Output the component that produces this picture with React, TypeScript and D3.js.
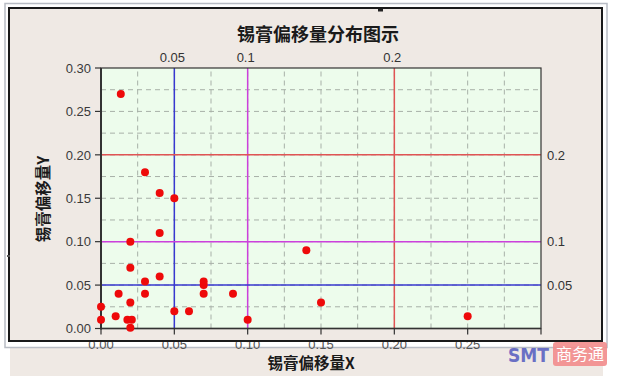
import React from "react";
import * as d3 from "d3";

const pointsX = [0.0135, 0.03, 0.04, 0.05, 0.04, 0.02, 0.14, 0.02, 0.03, 0.04, 0.07, 0.07, 0.012, 0.03, 0.07, 0.09, 0.02, 0.15, 0, 0.05, 0.06, 0.01, 0, 0.018, 0.021, 0.1, 0.02, 0.25];
const pointsY = [0.27, 0.18, 0.156, 0.15, 0.11, 0.1, 0.09, 0.07, 0.054, 0.06, 0.05, 0.054, 0.04, 0.04, 0.04, 0.04, 0.03, 0.03, 0.025, 0.02, 0.02, 0.014, 0.01, 0.01, 0.01, 0.01, 0.001, 0.014];
const xTicks = [0, 0.05, 0.1, 0.15, 0.2, 0.25, 0.3];
const xTickLabels = ["0.00", "0.05", "0.10", "0.15", "0.20", "0.25", ""];
const yTicks = [0, 0.05, 0.1, 0.15, 0.2, 0.25, 0.3];
const gridSteps = [0.025, 0.05, 0.075, 0.1, 0.125, 0.15, 0.175, 0.2, 0.225, 0.25, 0.275];
const refValues = [0.05, 0.1, 0.2];
const refLabels = ["0.05", "0.1", "0.2"];
const refColors = ["#3838d0", "#cc40dc", "#e05454"];

export default function App() {
  const x = d3.scaleLinear().domain([0, 0.3]).range([101, 541]);
  const y = d3.scaleLinear().domain([0, 0.3]).range([328.5, 68]);
  const font = "'Liberation Sans', Arial, sans-serif";
  const cjk = "'Noto Sans CJK SC', sans-serif";
  return (
    <svg width={620} height={376} style={{ position: "absolute", left: 0, top: 0 }}>
      <rect x={0} y={0} width={620} height={376} fill="#ffffff" />
      <rect x={10} y={347} width={593} height={29} fill="#efe9e4" />
      <rect x={5} y={3.5} width={602} height={344} fill="#ffffff" stroke="#b8bcc4" strokeWidth={1.5} />
      <rect x={9} y={8} width={593} height={333} fill="#efe9e4" stroke="#1a1a1a" strokeWidth={2} />
      <rect x={378} y={9} width={5} height={2.5} fill="#222" />
      <rect x={7} y={255} width={3} height={2} fill="#555" />
      <rect x={x(0)} y={y(0.3)} width={x(0.3) - x(0)} height={y(0) - y(0.3)} fill="#edfcec" />
      {gridSteps.map((g, i) => (
        <line key={"gx" + i} x1={x(g)} x2={x(g)} y1={y(0)} y2={y(0.3)} stroke="#a8b0a8" strokeDasharray="5,4" strokeWidth={1} />
      ))}
      {gridSteps.map((g, i) => (
        <line key={"gy" + i} x1={x(0)} x2={x(0.3)} y1={y(g)} y2={y(g)} stroke="#a8b0a8" strokeDasharray="5,4" strokeWidth={1} />
      ))}
      {refValues.map((v, i) => (
        <line key={"rv" + i} x1={x(v)} x2={x(v)} y1={y(0)} y2={y(0.3)} stroke={refColors[i]} strokeWidth={1.5} />
      ))}
      {refValues.map((v, i) => (
        <line key={"rh" + i} x1={x(0)} x2={x(0.3)} y1={y(v)} y2={y(v)} stroke={refColors[i]} strokeWidth={1.5} />
      ))}
      <rect x={x(0)} y={y(0.3)} width={x(0.3) - x(0)} height={y(0) - y(0.3)} fill="none" stroke="#333" strokeWidth={1.2} />
      <line x1={x(0)} x2={x(0)} y1={y(0.3)} y2={y(0) + 1} stroke="#333" strokeWidth={2} />
      <line x1={x(0)} x2={x(0.3)} y1={y(0)} y2={y(0)} stroke="#333" strokeWidth={1.5} />
      {yTicks.map((t, i) => (
        <g key={"yt" + i}>
          <line x1={x(0) - 6} x2={x(0)} y1={y(t)} y2={y(t)} stroke="#333" strokeWidth={1.2} />
          <text x={91} y={y(t)} dy="0.36em" textAnchor="end" fontFamily={font} fontSize={13} fill="#3a3a3a">{t.toFixed(2)}</text>
        </g>
      ))}
      {xTicks.map((t, i) => (
        <g key={"xt" + i}>
          <line x1={x(t)} x2={x(t)} y1={y(0)} y2={y(0) + 6} stroke="#333" strokeWidth={1.2} />
          {xTickLabels[i] ? (
            <text x={x(t)} y={349} textAnchor="middle" fontFamily={font} fontSize={13} fill="#555">{xTickLabels[i]}</text>
          ) : null}
        </g>
      ))}
      <line x1={9} x2={602} y1={341} y2={341} stroke="#1a1a1a" strokeWidth={2} />
      {refValues.map((v, i) => (
        <text key={"tl" + i} x={x(v) - 2} y={62} textAnchor="middle" fontFamily={font} fontSize={13} fill="#333">{refLabels[i]}</text>
      ))}
      {refValues.map((v, i) => (
        <text key={"rl" + i} x={547} y={y(v)} dy="0.36em" textAnchor="start" fontFamily={font} fontSize={13} fill="#333">{refLabels[i]}</text>
      ))}
      {pointsX.map((px, i) => (
        <circle key={"p" + i} cx={x(px)} cy={y(pointsY[i])} r={4} fill="#ee0a0a" />
      ))}
      <text x={318} y={41} textAnchor="middle" fontFamily={cjk} fontWeight="bold" fontSize={18} fill="#1a1a1a">锡膏偏移量分布图示</text>
      <text x={311} y={369} textAnchor="middle" fontFamily={cjk} fontWeight="bold" fontSize={15.5} fill="#1a1a1a">锡膏偏移量X</text>
      <text transform="translate(49,199) rotate(-90)" textAnchor="middle" fontFamily={cjk} fontWeight="bold" fontSize={15.5} fill="#1a1a1a">锡膏偏移量Y</text>
      <text x={508} y={362} fontFamily="'DejaVu Sans', sans-serif" fontWeight="bold" fontSize={19} fill="#6a70c4" textLength={41} lengthAdjust="spacingAndGlyphs">SMT</text>
      <rect x={553} y={342} width={54} height={24} rx={3} fill="#f28c8c" opacity={0.9} />
      <text x={580} y={360} textAnchor="middle" fontFamily={cjk} fontSize={16} fill="#ffffff">商务通</text>
    </svg>
  );
}
